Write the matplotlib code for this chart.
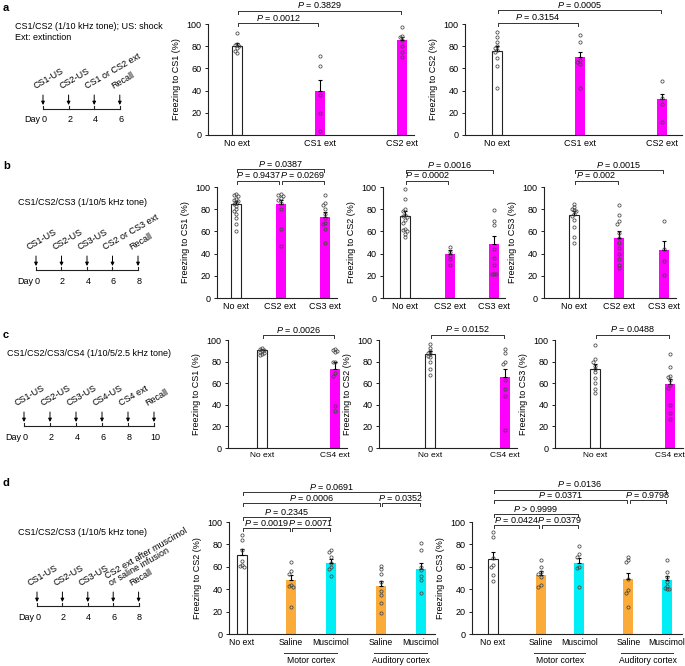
import matplotlib
matplotlib.use('Agg')
import matplotlib.pyplot as plt
import matplotlib.transforms as mtransforms

plt.rcParams['font.family'] = ['Liberation Sans', 'DejaVu Sans']
plt.rcParams['mathtext.fontset'] = 'custom'
plt.rcParams['mathtext.rm'] = 'Liberation Sans'
plt.rcParams['mathtext.it'] = 'Liberation Sans:italic'
plt.rcParams['font.size'] = 6.5

W, H = 685, 666
MAGENTA = '#ff00ff'
ORANGE = '#fbab3a'
CYAN = '#00eef6'
FS = 6.5

# ---------------- data ----------------
# panel a
a_groups = ['No ext', 'CS1 ext', 'CS2 ext']
a_cs1_mean = [80, 39.5, 85.3]
a_cs1_sem = [2.6, 10.5, 3.3]
a_cs1_pts = [[92, 82, 81, 80, 78, 76, 74],
             [71, 62, 36, 20, 4],
             [97, 89, 88, 86, 80, 75, 70]]
a_cs1_p = ['= 0.0012', '= 0.3829']
a_cs2_mean = [76, 70.3, 32.4]
a_cs2_sem = [4.0, 4.7, 4.6]
a_cs2_pts = [[93, 88, 84, 80, 78, 77, 75, 69, 62, 42],
             [90, 84, 68, 66, 64, 42],
             [49, 33, 28, 12]]
a_cs2_p = ['= 0.3154', '= 0.0005']
a_pairs = [(0, 1), (0, 2)]

# panel b
b_groups = ['No ext', 'CS2 ext', 'CS3 ext']
b_cs1_mean = [84.4, 84.4, 73]
b_cs1_sem = [3, 4, 4.5]
b_cs1_pts = [[94, 93, 92, 89, 88, 87, 86, 85, 83, 80, 78, 76, 72, 67, 60],
             [94, 93, 92, 90, 88, 86, 80, 62, 47],
             [93, 86, 84, 80, 76, 72, 68, 67, 62, 50]]
b_cs1_p = ['= 0.9437', '= 0.0269', '= 0.0387']
b_cs1_pairs = [(0, 1), (1, 2), (0, 2)]
b_cs2_mean = [74, 40, 49]
b_cs2_sem = [4.4, 3.5, 7]
b_cs2_pts = [[98, 89, 80, 78, 75, 74, 73, 70, 68, 62, 61, 60, 58, 55],
             [46, 41, 38, 35, 30],
             [79, 69, 66, 44, 36, 30, 22, 22, 22]]
b_cs2_p = ['= 0.0002', '= 0.0016']
b_cs3_mean = [74.5, 54.5, 43]
b_cs3_sem = [3.5, 6, 8]
b_cs3_pts = [[85, 82, 80, 79, 78, 76, 74, 70, 64, 55, 50],
             [84, 75, 69, 67, 59, 54, 50, 45, 40, 35, 30, 27],
             [69, 44, 33, 21]]
b_cs3_p = ['= 0.002', '= 0.0015']
b_pairs = [(0, 1), (0, 2)]

# panel c
c_groups = ['No ext', 'CS4 ext']
c_cs1_mean = [90.5, 73.5]
c_cs1_sem = [1.6, 6.5]
c_cs1_pts = [[93, 92, 91, 90, 89, 88, 87, 86],
             [92, 91, 90, 89, 80, 80, 69, 67, 39, 34]]
c_cs1_p = ['= 0.0026']
c_cs2_mean = [87.5, 65.8]
c_cs2_sem = [2.2, 6.9]
c_cs2_pts = [[96, 93, 90, 88, 87, 85, 84, 80, 73, 68],
             [92, 88, 80, 78, 63, 55, 48, 17]]
c_cs2_p = ['= 0.0152']
c_cs3_mean = [73.6, 59]
c_cs3_sem = [4.4, 5]
c_cs3_pts = [[95, 82, 80, 76, 73, 70, 65, 60, 55, 51],
             [87, 75, 67, 66, 63, 58, 56, 40, 32, 27]]
c_cs3_p = ['= 0.0488']
c_pairs = [(0, 1)]

# panel d
d_groups = ['No ext', 'Saline', 'Muscimol', 'Saline', 'Muscimol']
d_regions = ['Motor cortex', 'Auditory cortex']
d_cs2_mean = [70.2, 48, 63.7, 42.6, 58.3]
d_cs2_sem = [6, 4.4, 3, 4.7, 5]
d_cs2_pts = [[88, 84, 75, 65, 62, 61, 60],
             [64, 56, 54, 44, 43, 42, 24],
             [75, 73, 69, 63, 60, 58, 52],
             [61, 58, 54, 46, 38, 35, 28, 19],
             [81, 75, 60, 57, 52, 48, 37]]
d_cs2_p = ['= 0.0019', '= 0.0071', '= 0.2345', '= 0.0006', '= 0.0352', '= 0.0691']
d_cs3_mean = [67, 52.4, 63.7, 48.8, 48]
d_cs3_sem = [6.5, 3.6, 4.2, 6, 3.8]
d_cs3_pts = [[91, 87, 68, 62, 60, 53, 47],
             [66, 60, 55, 54, 51, 44, 42],
             [79, 71, 69, 60, 59, 42],
             [69, 66, 64, 49, 39, 37, 24],
             [66, 55, 51, 46, 43, 41, 40, 40]]
d_cs3_p = ['= 0.0424', '= 0.0379', '> 0.9999', '= 0.0371', '= 0.9798', '= 0.0136']
d_pairs = [(0, 1), (1, 2), (0, 2), (0, 3), (3, 4), (0, 4)]

# timelines
a_days = [0, 2, 4, 6]
a_events = ['CS1-US', 'CS2-US', 'CS1 or CS2 ext', 'Recall']
b_days = [0, 2, 4, 6, 8]
b_events = ['CS1-US', 'CS2-US', 'CS3-US', 'CS2 or CS3 ext', 'Recall']
c_days = [0, 2, 4, 6, 8, 10]
c_events = ['CS1-US', 'CS2-US', 'CS3-US', 'CS4-US', 'CS4 ext', 'Recall']
d_days = [0, 2, 4, 6, 8]
d_events = ['CS1-US', 'CS2-US', 'CS3-US', 'CS2 ext after muscimol\nor saline infusion', 'Recall']

fig = plt.figure(figsize=(W / 100, H / 100), dpi=100)
bg = fig.add_axes([0, 0, 1, 1], zorder=-1)
bg.set_xlim(0, W)
bg.set_ylim(H, 0)
bg.axis('off')


def swarm(vals, x0, step, tol):
    placed, xs = [], []
    for v in vals:
        x = x0
        for k in [0, -1, 1, -2, 2, -3, 3]:
            x = x0 + k * step
            if all(abs(x - px) > step * 0.5 or abs(v - pv) > tol for px, pv in placed):
                break
        placed.append((x, v))
        xs.append(x)
    return xs


def bar_axes(left, right, top, bottom, b0, b1, pos, labels, means, sems, pts,
             colors, ylabel, pairs, ptexts, levels, xfs=FS):
    ax = fig.add_axes([left / W, 1 - bottom / H, (right - left) / W, (bottom - top) / H])
    s = (b1 - b0) / (pos[-1] - pos[0])  # px per unit
    ax.set_xlim(pos[0] - (b0 - left) / s, pos[-1] + (right - b1) / s)
    ax.set_ylim(0, 100)
    bw = 10 / s
    for x, m, e, p, c in zip(pos, means, sems, pts, colors):
        if c == 'white':
            ax.bar(x, m, bw, color='white', edgecolor='#222222', lw=0.8, zorder=2)
        else:
            ax.bar(x, m, bw, color=c, lw=0, zorder=2)
        ax.errorbar(x, m, yerr=[[0], [e]], color='black', lw=0.8, capsize=1.5,
                    capthick=0.8, zorder=3)
        ax.plot(swarm(p, x, 2.2 / s, 2.2), p, 'o', ms=2.3, mfc='none', mec='#444444',
                mew=0.55, zorder=4, clip_on=False)
    ax.set_xticks(pos)
    ax.set_xticklabels(labels, fontsize=xfs)
    ax.set_yticks(range(0, 101, 20))
    ax.tick_params(axis='y', labelsize=FS, length=2.5, width=0.7, pad=2, color='#222222')
    ax.tick_params(axis='x', length=0, pad=3)
    for sp in ['top', 'right']:
        ax.spines[sp].set_visible(False)
    for sp in ['left', 'bottom']:
        ax.spines[sp].set_linewidth(0.8)
        ax.spines[sp].set_color('#222222')
    ax.patch.set_alpha(0)
    ax.set_ylabel(ylabel, fontsize=FS, labelpad=4)
    ppu = (bottom - top) / 100.0
    tick = 3 / ppu
    gap = 1.2 / s
    for (i, j), t, lv in zip(pairs, ptexts, levels):
        x1, x2 = pos[i] + gap, pos[j] - gap
        ax.plot([x1, x1, x2, x2], [lv - tick, lv, lv, lv - tick], color='#333333',
                lw=0.7, clip_on=False)
        ax.text((x1 + x2) / 2, lv + 0.2 / ppu, '$P$ ' + t, ha='center', va='bottom',
                fontsize=FS, clip_on=False)
    return ax


def timeline(x0, per_day, y, days, events, title, title_xy, letter, letter_y):
    bg.text(3, letter_y, letter, fontsize=8, fontweight='bold', va='center')
    bg.text(title_xy[0], title_xy[1], title, fontsize=FS, va='top', ha='left',
            linespacing=1.3)
    xs = [x0 + d * per_day for d in days]
    bg.plot([xs[0], xs[-1]], [y, y], color='#222222', lw=0.8)
    for x, d, ev in zip(xs, days, events):
        bg.plot([x, x], [y - 3, y], color='#222222', lw=0.8)
        bg.annotate('', xy=(x, y - 4), xytext=(x, y - 14),
                    arrowprops=dict(arrowstyle='-|>', color='black', lw=0.7,
                                    mutation_scale=5, shrinkA=0, shrinkB=0))
        bg.text(x + 1, y + 11, str(d), ha='center', va='center', fontsize=FS)
        dx = 5 if '\n' in ev else 0
        bg.text(x - 6 + dx, y - 18, ev, ha='left', va='bottom', rotation=30,
                rotation_mode='anchor', fontsize=FS, linespacing=0.95)
    bg.text(xs[0] - 3, y + 11, 'Day', ha='right', va='center', fontsize=FS)


# ---------------- panel a ----------------
timeline(43, 12.8, 109, a_days, a_events,
         'CS1/CS2 (1/10 kHz tone); US: shock\nExt: extinction', (15, 22), 'a', 8)
pa = [0, 1, 2]
ca = ['white', MAGENTA, MAGENTA]
bar_axes(208, 414, 24, 135, 237, 402, pa, a_groups, a_cs1_mean, a_cs1_sem, a_cs1_pts,
         ca, 'Freezing to CS1 (%)', a_pairs, a_cs1_p, [100.8, 112.0])
bar_axes(465, 682, 24, 135, 497, 662, pa, a_groups, a_cs2_mean, a_cs2_sem, a_cs2_pts,
         ca, 'Freezing to CS2 (%)', a_pairs, a_cs2_p, [101.2, 112.4])

# ---------------- panel b ----------------
timeline(36, 12.75, 270, b_days, b_events, 'CS1/CS2/CS3 (1/10/5 kHz tone)', (18, 198),
         'b', 166)
bar_axes(217, 337, 187, 298, 236, 325, pa, b_groups, b_cs1_mean, b_cs1_sem, b_cs1_pts,
         ca, 'Freezing to CS1 (%)', b_cs1_pairs, b_cs1_p, [105.7, 105.7, 116])
bar_axes(383, 505, 187, 298, 405, 494, pa, b_groups, b_cs2_mean, b_cs2_sem, b_cs2_pts,
         ca, 'Freezing to CS2 (%)', b_pairs, b_cs2_p, [105.7, 115.3])
bar_axes(544, 676, 187, 298, 574, 664, pa, b_groups, b_cs3_mean, b_cs3_sem, b_cs3_pts,
         ca, 'Freezing to CS3 (%)', b_pairs, b_cs3_p, [105.7, 115.3])

# ---------------- panel c ----------------
timeline(24, 13, 426, c_days, c_events, 'CS1/CS2/CS3/CS4 (1/10/5/2.5 kHz tone)',
         (7, 349), 'c', 335)
pc = [0, 1]
cc = ['white', MAGENTA]
bar_axes(228, 347, 340, 448, 262, 335, pc, c_groups, c_cs1_mean, c_cs1_sem, c_cs1_pts,
         cc, 'Freezing to CS1 (%)', c_pairs, c_cs1_p, [104.6], xfs=6)
bar_axes(379, 517, 340, 448, 430, 505, pc, c_groups, c_cs2_mean, c_cs2_sem, c_cs2_pts,
         cc, 'Freezing to CS2 (%)', c_pairs, c_cs2_p, [105], xfs=6)
bar_axes(555, 683, 340, 448, 595, 670, pc, c_groups, c_cs3_mean, c_cs3_sem, c_cs3_pts,
         cc, 'Freezing to CS3 (%)', c_pairs, c_cs3_p, [105], xfs=6)

# ---------------- panel d ----------------
timeline(37, 12.7, 606, d_days, d_events, 'CS1/CS2/CS3 (1/10/5 kHz tone)', (18, 528),
         'd', 483)
pd_ = [0, 1.23, 2.23, 3.5, 4.5]
cd = ['white', ORANGE, CYAN, ORANGE, CYAN]
for left, right, b0, b1, means, sems, pts, ylab, ptx, lv in [
        (229, 435, 242, 421, d_cs2_mean, d_cs2_sem, d_cs2_pts, 'Freezing to CS2 (%)',
         d_cs2_p, [94.4, 94.4, 104.7, 117.2, 117.2, 127]),
        (472, 682, 493, 667, d_cs3_mean, d_cs3_sem, d_cs3_pts, 'Freezing to CS3 (%)',
         d_cs3_p, [97.3, 97.3, 106.8, 119.6, 119.6, 129])]:
    ax = bar_axes(left, right, 522, 634, b0, b1, pd_, d_groups, means, sems, pts, cd,
                  ylab, d_pairs, ptx, lv, xfs=6.2)
    s = (b1 - b0) / (pd_[-1] - pd_[0])
    tr = mtransforms.blended_transform_factory(ax.transData, ax.transAxes)
    for k, reg in enumerate(d_regions):
        xa, xb = pd_[1 + 2 * k], pd_[2 + 2 * k]
        ax.plot([xa - 7 / s, xb + 6 / s], [-0.17, -0.17], color='#333333', lw=0.7,
                transform=tr, clip_on=False)
        ax.text((xa + xb) / 2, -0.24, reg, ha='center', va='center', fontsize=6.2,
                transform=tr)

fig.savefig('out.png', dpi=100)
